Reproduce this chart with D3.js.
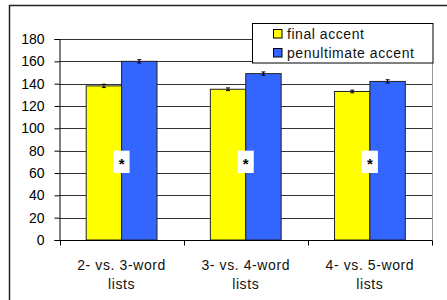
<!DOCTYPE html>
<html>
<head>
<meta charset="utf-8">
<script src="https://cdn.jsdelivr.net/npm/d3@7"></script>
<style>
  body { margin: 0; background: #fff; }
  svg { display: block; font-family: Arial, "Liberation Sans", sans-serif; }
</style>
</head>
<body>
<div id="chart"></div>
<script>
const categories = [["2- vs. 3-word", "lists"], ["3- vs. 4-word", "lists"], ["4- vs. 5-word", "lists"]];
const seriesNames = ["final accent", "penultimate accent"];
const seriesColors = ["#FFFF00", "#3366FF"];
const finalAccent = [138, 135, 133];
const penultimateAccent = [160, 149, 142];
const finalErr = [1.5, 1.2, 1.2];
const penultimateErr = [1.5, 1.5, 1.5];
const yTicks = [0, 20, 40, 60, 80, 100, 120, 140, 160, 180];
const starRange = [60, 80]; // significance marker box, in value units

const width = 447, height = 300;
const plot = { left: 59.5, right: 432, top: 39, bottom: 240 };

const svg = d3.select("#chart").append("svg")
    .attr("width", width)
    .attr("height", height);

// outer frame (only top and left are visible in the crop)
svg.append("path")
    .attr("d", `M9.5,${height} V5.5 H${width}`)
    .attr("fill", "none")
    .attr("stroke", "#222")
    .attr("stroke-width", 1.5);

const y = d3.scaleLinear().domain([0, 180]).range([plot.bottom, plot.top]);

const x0 = d3.scaleBand()
    .domain(d3.range(categories.length))
    .range([plot.left, plot.right])
    .padding(0);

const x1 = d3.scaleBand()
    .domain(d3.range(seriesNames.length))
    .range([0, x0.bandwidth()])
    .paddingInner(0)
    .paddingOuter(0.754);

// gridlines
svg.append("g")
    .selectAll("line")
    .data(yTicks.filter(d => d > 0))
    .join("line")
    .attr("x1", plot.left)
    .attr("x2", plot.right)
    .attr("y1", d => Math.round(y(d)) + 0.5)
    .attr("y2", d => Math.round(y(d)) + 0.5)
    .attr("stroke", "#333")
    .attr("stroke-width", 1);

// right plot border
svg.append("line")
    .attr("x1", plot.right + 0.5).attr("x2", plot.right + 0.5)
    .attr("y1", plot.top).attr("y2", plot.bottom)
    .attr("stroke", "#999");

// bars
const values = [finalAccent, penultimateAccent];
const errs = [finalErr, penultimateErr];
const barData = [];
categories.forEach((c, i) => {
    seriesNames.forEach((s, j) => {
        barData.push({ cat: i, ser: j, value: values[j][i], err: errs[j][i] });
    });
});

svg.append("g")
    .selectAll("rect")
    .data(barData)
    .join("rect")
    .attr("x", d => x0(d.cat) + x1(d.ser))
    .attr("y", d => y(d.value))
    .attr("width", x1.bandwidth())
    .attr("height", d => y(0) - y(d.value))
    .attr("fill", d => seriesColors[d.ser])
    .attr("stroke", "#222")
    .attr("stroke-width", 1);

// error bars
const eb = svg.append("g").attr("stroke", "#000").attr("stroke-width", 1);
barData.forEach(d => {
    const cx = x0(d.cat) + x1(d.ser) + x1.bandwidth() / 2;
    const yt = y(d.value + d.err), yb = y(d.value - d.err);
    eb.append("line").attr("x1", cx).attr("x2", cx).attr("y1", yt).attr("y2", yb);
    eb.append("line").attr("x1", cx - 2).attr("x2", cx + 2).attr("y1", yt).attr("y2", yt);
    eb.append("line").attr("x1", cx - 2).attr("x2", cx + 2).attr("y1", yb).attr("y2", yb);
});

// significance markers
const star = svg.append("g")
    .selectAll("g")
    .data(categories)
    .join("g")
    .attr("transform", (d, i) => `translate(${x0(i) + x0.bandwidth() / 2},0)`);

star.append("rect")
    .attr("x", -8)
    .attr("y", y(starRange[1]))
    .attr("width", 16)
    .attr("height", y(starRange[0]) - y(starRange[1]))
    .attr("fill", "#fff");

star.append("text")
    .attr("y", (y(starRange[0]) + y(starRange[1])) / 2 + 7)
    .attr("text-anchor", "middle")
    .style("font-size", "15px")
    .style("font-weight", "bold")
    .text("*");

// y axis
const yAxis = svg.append("g")
    .attr("transform", `translate(${plot.left},0)`)
    .call(d3.axisLeft(y).tickValues(yTicks).tickSize(5).tickPadding(10));
yAxis.select(".domain").attr("stroke", "#000");
yAxis.selectAll(".tick line").attr("stroke", "#000");
yAxis.selectAll(".tick text")
    .style("font-size", "14px")
    .attr("fill", "#000");

// x axis
const xAxis = svg.append("g").attr("transform", `translate(0,${plot.bottom + 0.5})`);
xAxis.append("line")
    .attr("x1", plot.left).attr("x2", plot.right + 0.5)
    .attr("stroke", "#000");
xAxis.selectAll(".xt")
    .data(d3.range(categories.length + 1))
    .join("line")
    .attr("class", "xt")
    .attr("x1", i => i < categories.length ? Math.round(x0(i)) + 0.5 : plot.right + 0.5)
    .attr("x2", i => i < categories.length ? Math.round(x0(i)) + 0.5 : plot.right + 0.5)
    .attr("y1", 0).attr("y2", 5)
    .attr("stroke", "#000");

const xl = svg.append("g")
    .selectAll("text")
    .data(categories)
    .join("text")
    .attr("text-anchor", "middle")
    .style("font-size", "14px")
    .style("letter-spacing", "0.6px")
    .attr("fill", "#111");
xl.each(function (d, i) {
    const t = d3.select(this);
    d.forEach((line, k) => {
        t.append("tspan")
            .attr("x", x0(i) + x0.bandwidth() / 2)
            .attr("y", 269.5 + k * 19.3)
            .text(line);
    });
});

// legend
const legend = svg.append("g");
legend.append("rect")
    .attr("x", 252.5).attr("y", 23.5)
    .attr("width", 180.5).attr("height", 39.5)
    .attr("fill", "#fff")
    .attr("stroke", "#000");

const items = legend.selectAll(".item")
    .data(seriesNames)
    .join("g")
    .attr("class", "item")
    .attr("transform", (d, i) => `translate(273.5,${29.5 + i * 19})`);

items.append("rect")
    .attr("width", 8.5).attr("height", 8.5)
    .attr("fill", (d, i) => seriesColors[i])
    .attr("stroke", "#000");

items.append("text")
    .attr("x", 13.5)
    .attr("y", 9)
    .style("font-size", "14px")
    .style("letter-spacing", "0.55px")
    .attr("fill", "#111")
    .text(d => d);
</script>
</body>
</html>
